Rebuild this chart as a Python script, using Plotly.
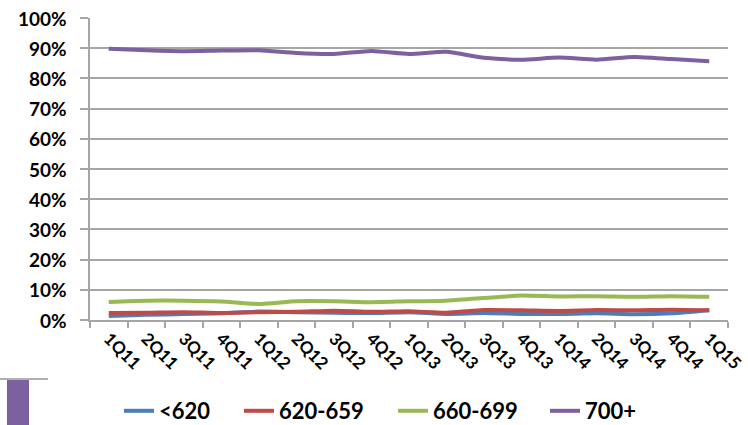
import plotly.graph_objects as go

quarters = ["1Q11", "2Q11", "3Q11", "4Q11", "1Q12", "2Q12", "3Q12", "4Q12", "1Q13",
            "2Q13", "3Q13", "4Q13", "1Q14", "2Q14", "3Q14", "4Q14", "1Q15"]

# share of originations by credit score band (%)
below_620 = [1.3, 1.7, 2.0, 2.2, 2.8, 2.6, 2.4, 2.3, 2.6, 2.0, 2.3, 2.0, 2.0, 2.2, 1.9, 2.2, 3.2]
band_620_659 = [2.3, 2.4, 2.6, 2.3, 2.6, 2.7, 3.1, 2.7, 2.9, 2.4, 3.3, 3.2, 3.0, 3.3, 3.2, 3.4, 3.2]
band_660_699 = [6.0, 6.4, 6.4, 6.1, 5.3, 6.2, 6.2, 5.9, 6.2, 6.4, 7.3, 8.1, 7.8, 7.9, 7.7, 7.9, 7.7]
band_700_plus = [89.8, 89.3, 89.0, 89.2, 89.3, 88.4, 88.1, 89.1, 88.1, 88.8, 86.8, 86.2, 86.9, 86.2, 87.1, 86.4, 85.7]

series = [
    ("<620", below_620, "#4A7EBB"),
    ("620-659", band_620_659, "#BE4B48"),
    ("660-699", band_660_699, "#98B954"),
    ("700+", band_700_plus, "#7D60A0"),
]

y_ticks = list(range(0, 101, 10))
y_tick_text = [f"{v}%" for v in y_ticks]

font_family = "Lato"
grid_color = "#A6A6A6"

# plot area in pixels
L, R, T, B = 90, 20, 18, 105
W, H = 748, 425
PW, PH = W - L - R, H - T - B

# left edge (px) of each legend entry along the bottom row
legend_px = [119, 239, 393, 545]

fig = go.Figure()
legend_ids = ["legend", "legend2", "legend3", "legend4"]
for (name, vals, color), lid in zip(series, legend_ids):
    fig.add_trace(go.Scatter(
        x=quarters, y=vals, name=name, mode="lines", legend=lid,
        line=dict(color=color, width=4, shape="spline", smoothing=0.6),
    ))

legend_style = dict(
    orientation="h", y=-91 / PH, yanchor="middle", xanchor="left",
    font=dict(family=font_family, size=22, weight="bold"),
    bgcolor="rgba(0,0,0,0)",
)
legend_layout = {
    lid: dict(legend_style, x=(px - L) / PW) for lid, px in zip(legend_ids, legend_px)
}

# y tick labels set a little farther from the axis than the default spacing
y_label_annotations = [
    dict(text=t, x=(69 - L) / PW, xref="paper", y=v, yref="y",
         xanchor="right", yanchor="middle", showarrow=False,
         font=dict(family=font_family, size=19, weight="bold", color="black"))
    for v, t in zip(y_ticks, y_tick_text)
]

fig.update_layout(
    width=W, height=H,
    margin=dict(l=L, r=R, t=T, b=B, autoexpand=False),
    plot_bgcolor="white", paper_bgcolor="white",
    font=dict(family=font_family, color="black", size=15),
    showlegend=True,
    xaxis=dict(
        type="category", range=[-0.5, 16.5], tickson="boundaries", automargin=False,
        showline=True, linecolor=grid_color, linewidth=2,
        ticks="outside", ticklen=6, tickcolor=grid_color, tickwidth=2,
        showgrid=False, tickangle=45,
        tickfont=dict(family=font_family, size=17, weight="bold"),
    ),
    yaxis=dict(
        range=[0, 100], tickvals=y_ticks, showticklabels=False,
        automargin=False,
        showline=True, linecolor=grid_color, linewidth=2,
        ticks="outside", ticklen=8, tickcolor=grid_color, tickwidth=2,
        showgrid=True, gridcolor=grid_color, gridwidth=2, zeroline=False,
    ),
    annotations=y_label_annotations,
    shapes=[
        dict(type="rect", xref="paper", yref="paper",
             x0=(7 - L) / PW, x1=(29 - L) / PW, y0=-B / PH, y1=(T + PH - 380) / PH,
             fillcolor="#7D60A0", line=dict(width=0), layer="above"),
        dict(type="line", xref="paper", yref="paper",
             x0=-L / PW, x1=(48 - L) / PW, y0=(T + PH - 379) / PH, y1=(T + PH - 379) / PH,
             line=dict(color="#B0B0B0", width=2)),
    ],
    **legend_layout,
)

fig.write_html("out.html")
